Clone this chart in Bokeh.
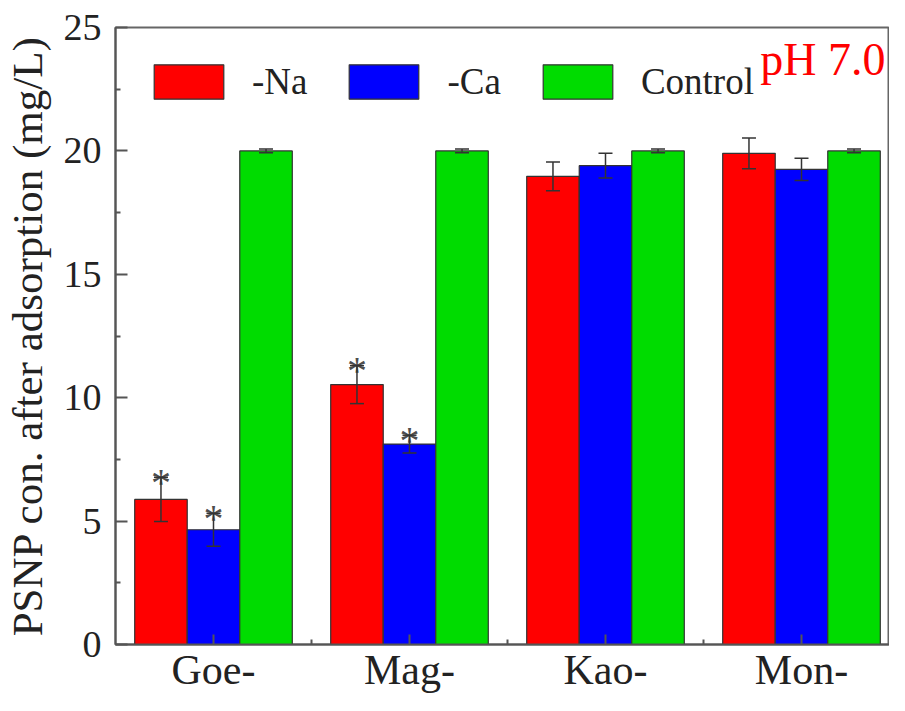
from bokeh.plotting import figure
from bokeh.models import (ColumnDataSource, Whisker, TeeHead, FixedTicker, Legend,
                          LegendItem, Label, Range1d)
from bokeh.core.properties import value
from bokeh.embed import file_html
from bokeh.resources import INLINE

# ---- data ----
categories = ["Goe-", "Mag-", "Kao-", "Mon-"]
series_names = ["-Na", "-Ca", "Control"]
na = [5.88, 10.53, 18.97, 19.90]
na_err = [0.90, 0.77, 0.58, 0.62]
ca = [4.65, 8.12, 19.40, 19.25]
ca_err = [0.67, 0.36, 0.50, 0.45]
control = [20.0, 20.0, 20.0, 20.0]
control_err = [0.08, 0.08, 0.08, 0.08]
na_sig = [True, True, False, False]
ca_sig = [True, True, False, False]
y_ticks = [0, 5, 10, 15, 20, 25]
y_minor = [2.5, 7.5, 12.5, 17.5, 22.5]
annotation = "pH 7.0"

colors = ["#ff0000", "#0000ff", "#00dc00"]
FONT = "Liberation Serif"
BAR_W = 0.268
offsets = [-BAR_W, 0.0, BAR_W]

p = figure(width=889, height=695, output_backend="svg", toolbar_location=None,
           x_range=Range1d(-0.5, 3.449), y_range=Range1d(0, 25),
           min_border_left=107, min_border_right=0, min_border_top=27, min_border_bottom=0)
p.background_fill_color = "white"
p.border_fill_color = "white"
p.outline_line_color = "#666666"
p.outline_line_width = 2
p.xgrid.visible = False
p.ygrid.visible = False

renderers = []
for vals, errs, sig, off, col in zip([na, ca, control], [na_err, ca_err, control_err],
                                     [na_sig, ca_sig, [False] * 4], offsets, colors):
    xs = [i + off for i in range(len(categories))]
    src = ColumnDataSource(dict(x=xs, top=vals,
                                upper=[v + e for v, e in zip(vals, errs)],
                                lower=[v - e for v, e in zip(vals, errs)]))
    r = p.vbar(x="x", top="top", width=BAR_W, bottom=0, source=src,
               fill_color=col, line_color="#333333", line_width=1.2)
    renderers.append(r)
    w = Whisker(source=src, base="x", upper="upper", lower="lower", level="overlay",
                line_color="#333333", line_width=1.5,
                upper_head=TeeHead(size=14, line_color="#333333", line_width=1.5),
                lower_head=TeeHead(size=14, line_color="#333333", line_width=1.5))
    p.add_layout(w)
    sx = [x for x, s in zip(xs, sig) if s]
    sy = [v + e for v, e, s in zip(vals, errs, sig) if s]
    if sx:
        ssrc = ColumnDataSource(dict(x=sx, y=sy, t=["*"] * len(sx)))
        p.text(x="x", y="y", text="t", source=ssrc, text_font=value(FONT),
               text_font_size="40px", text_color="#4d4d4d", text_align="center",
               text_baseline="alphabetic", y_offset=5)

# axes
yax = p.yaxis[0]
yax.ticker = FixedTicker(ticks=y_ticks, minor_ticks=y_minor)
yax.axis_label = "PSNP con. after adsorption (mg/L)"
yax.axis_label_text_font = FONT
yax.axis_label_text_font_style = "normal"
yax.axis_label_text_font_size = "43px"
yax.axis_label_text_color = "#222222"
yax.axis_label_standoff = 10
yax.major_label_text_font = FONT
yax.major_label_text_font_size = "38px"
yax.major_label_text_color = "#222222"
yax.major_label_standoff = 14
yax.major_tick_in = 12
yax.major_tick_out = 0
yax.minor_tick_in = 5
yax.minor_tick_out = 0
yax.axis_line_color = "#555555"
yax.axis_line_width = 2
yax.major_tick_line_color = "#555555"
yax.major_tick_line_width = 2
yax.minor_tick_line_color = "#555555"
yax.minor_tick_line_width = 2

xax = p.xaxis[0]
xax.ticker = FixedTicker(ticks=list(range(len(categories))),
                         minor_ticks=[i + 0.5 for i in range(len(categories) - 1)])
xax.major_label_overrides = {i: c for i, c in enumerate(categories)}
xax.major_label_text_font = FONT
xax.major_label_text_font_size = "42px"
xax.major_label_text_color = "#222222"
xax.major_label_standoff = 2
xax.major_tick_in = 10
xax.major_tick_out = 0
xax.minor_tick_in = 5
xax.minor_tick_out = 0
xax.axis_line_color = "#555555"
xax.axis_line_width = 2
xax.major_tick_line_color = "#555555"
xax.major_tick_line_width = 2
xax.minor_tick_line_color = "#555555"
xax.minor_tick_line_width = 2

legend = Legend(items=[LegendItem(label=n, renderers=[r]) for n, r in zip(series_names, renderers)],
                orientation="horizontal", location=(30, 541), margin=0, padding=0,
                glyph_width=87, glyph_height=43, label_standoff=20, spacing=33,
                label_text_font=FONT, label_text_font_size="37px", label_text_color="#222222",
                border_line_color=None, background_fill_alpha=0)
p.add_layout(legend)

p.add_layout(Label(x=2.79, y=23.7, text=annotation, text_font=FONT, text_font_size="46px",
                   text_color="#ff0000", text_baseline="alphabetic"))

open("out.html", "w").write(file_html(p, INLINE))
